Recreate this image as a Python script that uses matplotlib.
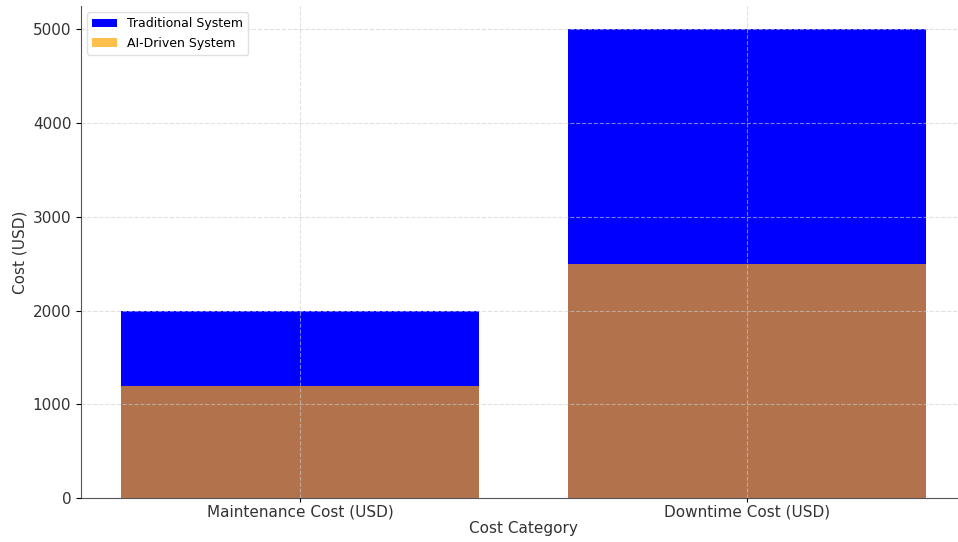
import numpy as np
import matplotlib
matplotlib.use("Agg")
import matplotlib.pyplot as plt

categories = ["Maintenance Cost (USD)", "Downtime Cost (USD)"]
traditional = [2000, 5000]
ai_driven = [1200, 2500]

fig = plt.figure(figsize=(9.58, 5.42), dpi=100)
# the reference is a crop: axes run past the right and top edges
ax = fig.add_axes([81 / 958, 44 / 542, 885 / 958, 492 / 542])

x = np.arange(len(categories))
ax.bar(x, traditional, width=0.8, color="blue", label="Traditional System")
ax.bar(x, ai_driven, width=0.8, color="orange", alpha=0.7, label="AI-Driven System")

ax.set_xticks(x)
ax.set_xticklabels(categories, fontsize=11, color="#333333")
ax.set_yticks([0, 1000, 2000, 3000, 4000, 5000])
ax.tick_params(axis="y", labelsize=11, labelcolor="#333333")
ax.tick_params(axis="x", length=3, pad=1.5)
ax.set_xlabel("Cost Category", fontsize=11, color="#333333", labelpad=1)
ax.set_ylabel("Cost (USD)", fontsize=11, color="#333333")

ax.set_axisbelow(False)
ax.grid(True, linestyle="--", linewidth=0.8, color="#cccccc", alpha=0.6)
for s in ["top", "right"]:
    ax.spines[s].set_visible(False)
for s in ["left", "bottom"]:
    ax.spines[s].set_color("#555555")

ax.legend(loc="upper left", fontsize=9, framealpha=0.9, edgecolor="#dddddd")

fig.savefig("out.png", dpi=100)
